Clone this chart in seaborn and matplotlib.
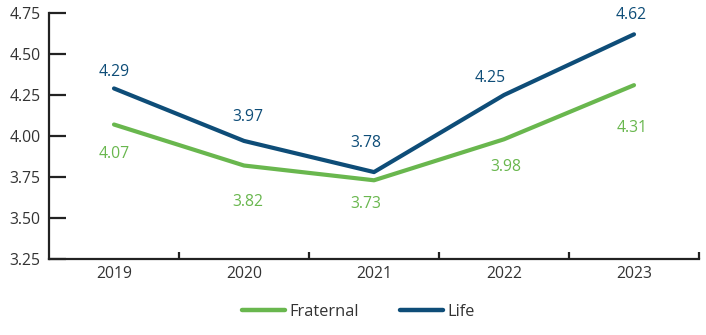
import matplotlib
matplotlib.use("Agg")
import matplotlib.pyplot as plt
import seaborn as sns
import pandas as pd
from matplotlib.lines import Line2D

years = ["2019", "2020", "2021", "2022", "2023"]
fraternal = [4.07, 3.82, 3.73, 3.98, 4.31]
life = [4.29, 3.97, 3.78, 4.25, 4.62]
series_names = ["Fraternal", "Life"]
y_ticks = [3.25, 3.50, 3.75, 4.00, 4.25, 4.50, 4.75]

colors = {"Fraternal": "#69B74E", "Life": "#0E4D78"}
# label offsets in points (dx, dy)
fr_off = [(0, -21), (3, -26), (-6, -17), (1, -20), (-1, -31)]
life_off = [(0, 12), (3, 17), (-6, 21), (-10, 12), (-2, 14)]

sns.set_style("white")
plt.rcParams["font.family"] = ["Open Sans", "DejaVu Sans"]

df = pd.DataFrame({
    "year": years * 2,
    "value": fraternal + life,
    "series": [series_names[0]] * len(years) + [series_names[1]] * len(years),
})

fig = plt.figure(figsize=(7.06, 3.35), dpi=100)
ax = fig.add_axes([49 / 706, 76 / 335, 650 / 706, 246 / 335])

sns.lineplot(data=df, x="year", y="value", hue="series", palette=colors,
             linewidth=3, ax=ax, legend=False, sort=False)

fs = 11.3
for i, v in enumerate(fraternal):
    ax.annotate(f"{v:.2f}", (i, v), xytext=fr_off[i], textcoords="offset points",
                ha="center", va="center", color=colors["Fraternal"], fontsize=fs)
for i, v in enumerate(life):
    ax.annotate(f"{v:.2f}", (i, v), xytext=life_off[i], textcoords="offset points",
                ha="center", va="center", color=colors["Life"], fontsize=fs)

ax.set_xlim(-0.5, 4.5)
ax.set_ylim(3.25, 4.75)
ax.set_yticks(y_ticks)
ax.set_yticklabels([f"{t:.2f}" for t in y_ticks])
ax.set_xticks(range(len(years)))
ax.set_xticklabels(years)
ax.set_xticks([i + 0.5 for i in range(len(years))], minor=True)
ax.set_xlabel("")
ax.set_ylabel("")

for s in ["top", "right"]:
    ax.spines[s].set_visible(False)
for s in ["left", "bottom"]:
    ax.spines[s].set_linewidth(1.6)
    ax.spines[s].set_color("#222222")

ax.tick_params(axis="y", left=True, direction="in", length=12, width=1.6, color="#222222",
               labelsize=fs, labelcolor="#333333", pad=6)
ax.tick_params(axis="x", which="major", bottom=True, length=0, labelsize=fs,
               labelcolor="#333333", pad=5)
ax.tick_params(axis="x", which="minor", bottom=True, direction="in", length=5, width=1.6,
               color="#222222")

handles = [Line2D([0], [0], color=colors[n], lw=3.2, solid_capstyle="round") for n in series_names]
fig.legend(handles, series_names, loc="center", bbox_to_anchor=(0.508, 0.068),
           ncol=2, frameon=False, fontsize=11.8, handlelength=2.6,
           handletextpad=0.3, columnspacing=2.5, labelcolor="#333333")

fig.savefig("out.png", dpi=100)
